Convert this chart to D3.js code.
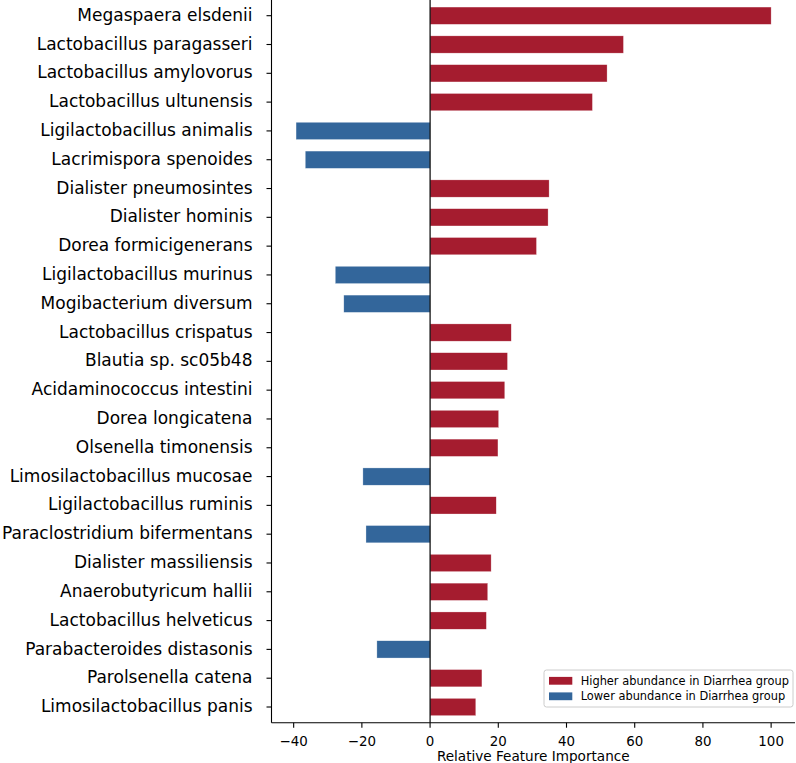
<!DOCTYPE html>
<html>
<head>
<meta charset="utf-8">
<script src="https://cdn.jsdelivr.net/npm/d3@7/dist/d3.min.js"></script>
<style>
  html, body { margin: 0; padding: 0; background: #fff; }
  svg { display: block; font-family: "DejaVu Sans", sans-serif; }
</style>
</head>
<body>
<div id="chart"></div>
<script>
const species = [
  "Megaspaera elsdenii", "Lactobacillus paragasseri", "Lactobacillus amylovorus",
  "Lactobacillus ultunensis", "Ligilactobacillus animalis", "Lacrimispora spenoides",
  "Dialister pneumosintes", "Dialister hominis", "Dorea formicigenerans",
  "Ligilactobacillus murinus", "Mogibacterium diversum", "Lactobacillus crispatus",
  "Blautia sp. sc05b48", "Acidaminococcus intestini", "Dorea longicatena",
  "Olsenella timonensis", "Limosilactobacillus mucosae", "Ligilactobacillus ruminis",
  "Paraclostridium bifermentans", "Dialister massiliensis", "Anaerobutyricum hallii",
  "Lactobacillus helveticus", "Parabacteroides distasonis", "Parolsenella catena",
  "Limosilactobacillus panis"
];
const importance = [
  100.0, 56.7, 51.9, 47.6, -39.3, -36.6, 34.9, 34.6, 31.2, -27.8, -25.3,
  23.8, 22.7, 21.9, 20.1, 19.9, -19.7, 19.4, -18.8, 17.9, 16.9, 16.5, -15.6, 15.2, 13.4
];
const xTicks = [-40, -20, 0, 20, 40, 60, 80, 100];
const legendLabels = ["Higher abundance in Diarrhea group", "Lower abundance in Diarrhea group"];
const colors = { pos: "#a51c2f", neg: "#33669b" };
const xLabel = "Relative Feature Importance";

const W = 796, H = 763;
const mLeft = 271.5, mRight = 795, mTop = 0, mBottom = 722.7;

const svg = d3.select("#chart").append("svg").attr("width", W).attr("height", H);

const x = d3.scaleLinear().domain([-46.5, 107]).range([mLeft, mRight]);
const y = d3.scaleLinear().domain([-0.545, species.length - 1 + 0.545]).range([mTop, mBottom]);
const barH = 0.6;

// bars
svg.append("g").selectAll("rect").data(importance).join("rect")
  .attr("x", d => x(Math.min(0, d)))
  .attr("width", d => Math.abs(x(d) - x(0)))
  .attr("y", (d, i) => y(i - barH / 2))
  .attr("height", (d, i) => y(i + barH / 2) - y(i - barH / 2))
  .attr("fill", d => d >= 0 ? colors.pos : colors.neg)
  .attr("stroke", "#fff").attr("stroke-width", 0.5).attr("stroke-opacity", 0.6);

// zero line
svg.append("line")
  .attr("x1", x(0)).attr("x2", x(0)).attr("y1", mTop).attr("y2", mBottom)
  .attr("stroke", "#000").attr("stroke-width", 1.2);

// y axis
const yAxis = svg.append("g").attr("transform", `translate(${mLeft},0)`);
yAxis.append("line").attr("x1", 0).attr("x2", 0).attr("y1", mTop).attr("y2", mBottom)
  .attr("stroke", "#000").attr("stroke-width", 1.1);
const yt = yAxis.selectAll("g.tick").data(species).join("g").attr("class", "tick")
  .attr("transform", (d, i) => `translate(0,${y(i)})`);
yt.append("line").attr("x1", -5).attr("x2", 0).attr("stroke", "#000").attr("stroke-width", 1.1);
yt.append("text").attr("x", -19).attr("dy", "0.3em").attr("text-anchor", "end")
  .attr("font-size", 17).attr("fill", "#000").text(d => d);

// x axis
const xAxis = svg.append("g").attr("transform", `translate(0,${mBottom})`);
xAxis.append("line").attr("x1", mLeft).attr("x2", mRight).attr("y1", 0).attr("y2", 0)
  .attr("stroke", "#000").attr("stroke-width", 1.1);
const xt = xAxis.selectAll("g.tick").data(xTicks).join("g").attr("class", "tick")
  .attr("transform", d => `translate(${x(d)},0)`);
xt.append("line").attr("y1", 0).attr("y2", 5).attr("stroke", "#000").attr("stroke-width", 1.1);
xt.append("text").attr("y", 23.3).attr("text-anchor", "middle")
  .attr("font-size", 13.4).attr("fill", "#000")
  .text(d => d < 0 ? "\u2212" + Math.abs(d) : String(d));

svg.append("text").attr("x", (mLeft + mRight) / 2).attr("y", 761)
  .attr("text-anchor", "middle").attr("font-size", 13.6).attr("fill", "#000").text(xLabel);

// legend
const lg = svg.append("g").attr("transform", "translate(544,670)");
lg.append("rect").attr("width", 249).attr("height", 37).attr("rx", 2.5)
  .attr("fill", "#fff").attr("fill-opacity", 0.8).attr("stroke", "#cccccc").attr("stroke-width", 1);
const li = lg.selectAll("g.item").data(legendLabels).join("g").attr("class", "item")
  .attr("transform", (d, i) => `translate(0,${10.7 + i * 15.5})`);
li.append("rect").attr("x", 5).attr("y", -3.8).attr("width", 23.3).attr("height", 7.8)
  .attr("fill", (d, i) => i === 0 ? colors.pos : colors.neg);
li.append("text").attr("x", 36.7).attr("dy", "0.35em").attr("font-size", 11.4).attr("fill", "#000").text(d => d);
</script>
</body>
</html>
